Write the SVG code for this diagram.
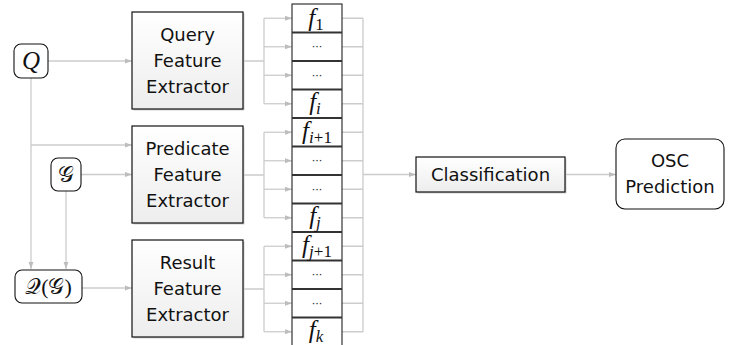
<svg xmlns="http://www.w3.org/2000/svg" width="729" height="345" viewBox="0 0 729 345">
<defs>
<linearGradient id="g" x1="0" y1="0" x2="0" y2="1">
<stop offset="0" stop-color="#ffffff"/>
<stop offset="1" stop-color="#ededed"/>
</linearGradient>
<marker id="ah" viewBox="0 0 10 10" refX="10" refY="5" markerWidth="7" markerHeight="7" markerUnits="userSpaceOnUse" orient="auto">
<path d="M0,1.5 L10,5 L0,8.5 Z" fill="#bdbdbd"/>
</marker>
</defs>
<style>
.c{fill:none;stroke:#cccccc;stroke-width:1.3}
.a{marker-end:url(#ah)}
.box{fill:url(#g);stroke:#111;stroke-width:1.2}
.sh{fill:#d0d0d0}
.rn{fill:#fff;stroke:#111;stroke-width:1.1}
.t{font-family:"DejaVu Sans",sans-serif;font-size:18px;fill:#111;text-anchor:middle}
.m{font-family:"Liberation Serif","DejaVu Serif",serif;font-style:italic;font-size:25px;fill:#111;text-anchor:middle}
.s{font-family:"Liberation Serif","DejaVu Serif",serif;font-size:22px;fill:#111;text-anchor:middle}
.cell{fill:#fff;stroke:#222;stroke-width:1.1}
.sep{stroke:#333;stroke-width:2.2}
.d{font-family:"DejaVu Sans",sans-serif;font-size:11px;fill:#222;text-anchor:middle}
</style>
<g id="connectors">
<path class="c a" d="M48,61 H132"/>
<path class="c a" d="M31,78 V269"/>
<path class="c a" d="M31,145 H132"/>
<path class="c a" d="M81,174.5 H132"/>
<path class="c a" d="M66,191 V269"/>
<path class="c a" d="M82,288 H132"/>
<path class="c" d="M243,61 H264 M264,18.25 V103.75"/>
<path class="c a" d="M264,18.25 H292"/>
<path class="c a" d="M264,46.75 H292"/>
<path class="c a" d="M264,75.25 H292"/>
<path class="c a" d="M264,103.75 H292"/>
<path class="c" d="M243,175 H264 M264,132.25 V217.75"/>
<path class="c a" d="M264,132.25 H292"/>
<path class="c a" d="M264,160.75 H292"/>
<path class="c a" d="M264,189.25 H292"/>
<path class="c a" d="M264,217.75 H292"/>
<path class="c" d="M243,289 H264 M264,246.25 V331.75"/>
<path class="c a" d="M264,246.25 H292"/>
<path class="c a" d="M264,274.75 H292"/>
<path class="c a" d="M264,303.25 H292"/>
<path class="c a" d="M264,331.75 H292"/>
<path class="c" d="M342,18.25 H363 M342,46.75 H363 M342,75.25 H363 M342,103.75 H363 M342,132.25 H363 M342,160.75 H363 M342,189.25 H363 M342,217.75 H363 M342,246.25 H363 M342,274.75 H363 M342,303.25 H363 M342,331.75 H363 M363,18.25 V331.75"/>
<path class="c a" d="M363,174.5 H416"/>
<path class="c a" d="M565,174.5 H616"/>
</g>
<g id="Q">
<rect class="rn" x="14" y="44" width="34" height="34" rx="7"/>
<text class="m" x="31" y="69">Q</text>
</g>
<g id="G">
<rect class="rn" x="51" y="158" width="30" height="33" rx="7"/>
<text class="s" x="66" y="182">𝒢</text>
</g>
<g id="QG">
<rect class="rn" x="15" y="270" width="67" height="33" rx="7"/>
<text class="s" x="48.5" y="294">𝒬(𝒢)</text>
</g>
<g id="query-extractor">
<rect class="sh" x="133.5" y="13.5" width="111" height="97"/>
<rect class="box" x="132" y="12" width="111" height="97"/>
<text class="t" x="187.5" y="41">Query</text>
<text class="t" x="187.5" y="67">Feature</text>
<text class="t" x="187.5" y="93">Extractor</text>
</g>
<g id="predicate-extractor">
<rect class="sh" x="133.5" y="127.5" width="111" height="97"/>
<rect class="box" x="132" y="126" width="111" height="97"/>
<text class="t" x="187.5" y="155">Predicate</text>
<text class="t" x="187.5" y="181">Feature</text>
<text class="t" x="187.5" y="207">Extractor</text>
</g>
<g id="result-extractor">
<rect class="sh" x="133.5" y="241.5" width="111" height="97"/>
<rect class="box" x="132" y="240" width="111" height="97"/>
<text class="t" x="187.5" y="269">Result</text>
<text class="t" x="187.5" y="295">Feature</text>
<text class="t" x="187.5" y="321">Extractor</text>
</g>
<g id="features">
<rect class="cell" x="292" y="4" width="50" height="342"/>
<path class="sep" d="M292,32.5 H342 M292,61 H342 M292,89.5 H342 M292,118 H342 M292,146.5 H342 M292,175 H342 M292,203.5 H342 M292,232 H342 M292,260.5 H342 M292,289 H342 M292,317.5 H342"/>
<text class="m" x="316" y="26">f<tspan font-style="normal" font-size="17" dy="4">1</tspan></text>
<text class="d" x="317" y="50">···</text>
<text class="d" x="317" y="79">···</text>
<text class="m" x="315" y="110">f<tspan font-size="17" dy="4">i</tspan></text>
<text class="m" x="317" y="139">f<tspan font-size="17" dy="4">i</tspan><tspan font-style="normal" font-size="17">+1</tspan></text>
<text class="d" x="317" y="164">···</text>
<text class="d" x="317" y="193">···</text>
<text class="m" x="315" y="224">f<tspan font-size="17" dy="4">j</tspan></text>
<text class="m" x="317" y="253">f<tspan font-size="17" dy="4">j</tspan><tspan font-style="normal" font-size="17">+1</tspan></text>
<text class="d" x="317" y="278">···</text>
<text class="d" x="317" y="307">···</text>
<text class="m" x="316" y="338">f<tspan font-size="17" dy="4">k</tspan></text>
</g>
<g id="classification">
<rect class="sh" x="417.5" y="158.5" width="149" height="35"/>
<rect class="box" x="416" y="157" width="149" height="35"/>
<text class="t" x="490.5" y="181">Classification</text>
</g>
<g id="osc">
<rect class="rn" x="616" y="139" width="108" height="70" rx="9"/>
<text class="t" x="670" y="167">OSC</text>
<text class="t" x="670" y="193">Prediction</text>
</g>
</svg>
